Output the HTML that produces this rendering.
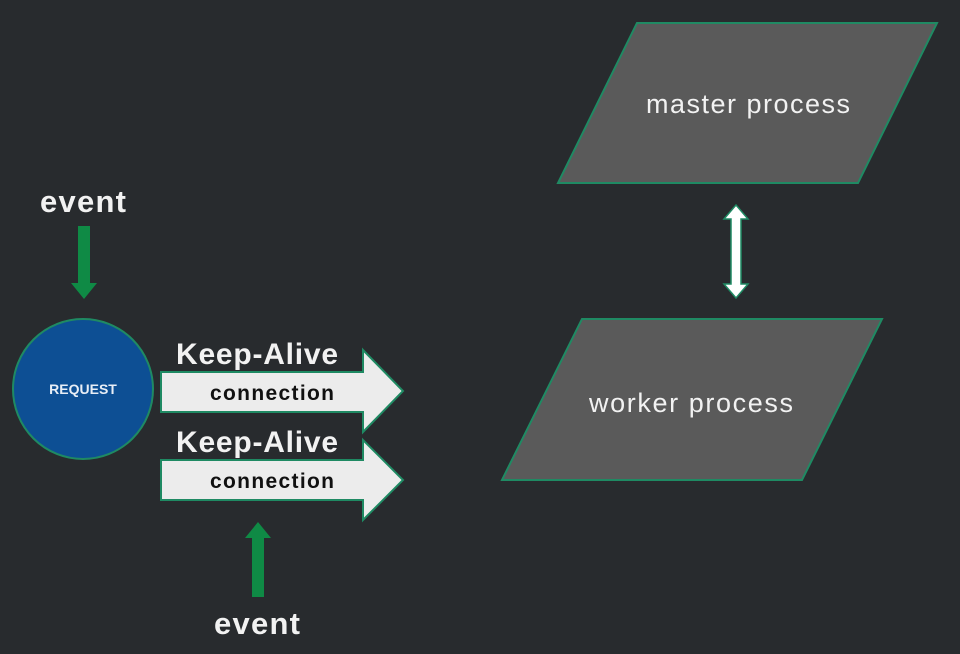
<!DOCTYPE html>
<html><head><meta charset="utf-8"><style>
html,body{margin:0;padding:0;background:#282b2e;}
svg{display:block}
text{font-family:"Liberation Sans",sans-serif;}
</style></head><body>
<svg width="960" height="654" viewBox="0 0 960 654" xmlns="http://www.w3.org/2000/svg">
<rect width="960" height="654" fill="#282b2e"/>
<polygon points="637,23 937,23 858,183 558,183" fill="#5a5a5a" stroke="#1f8a63" stroke-width="2"/>
<text x="748" y="113" font-size="27" fill="#f2f2f2" text-anchor="middle" textLength="204">master process</text>
<polygon points="582,319 882,319 802,480 502,480" fill="#5a5a5a" stroke="#1f8a63" stroke-width="2"/>
<text x="691" y="412" font-size="27" fill="#f2f2f2" text-anchor="middle" textLength="204">worker process</text>
<polygon points="736,205 748,219 741,219 741,284 748,284 736,298 724,284 731,284 731,219 724,219" fill="#ffffff" stroke="#1f8a63" stroke-width="1.5"/>
<text x="83" y="212" font-size="31" font-weight="bold" fill="#f2f2f2" text-anchor="middle" textLength="86">event</text>
<polygon points="78,226 90,226 90,283 97,283 84,299 71,283 78,283" fill="#0f8a45"/>
<circle cx="83" cy="389" r="70" fill="#0d4f94" stroke="#1f8a63" stroke-width="2"/>
<text x="83" y="394" font-size="14" font-weight="bold" fill="#e8eef6" text-anchor="middle">REQUEST</text>
<polygon points="161,372 363,372 363,350 403,391 363,432 363,412 161,412" fill="#ececec" stroke="#1f8a63" stroke-width="2"/>
<text x="257" y="364" font-size="30" font-weight="bold" fill="#f2f2f2" text-anchor="middle" textLength="162">Keep-Alive</text>
<text x="272" y="400" font-size="21" font-weight="bold" fill="#111" text-anchor="middle" textLength="124">connection</text>
<polygon points="161,460 363,460 363,440 403,480 363,520 363,500 161,500" fill="#ececec" stroke="#1f8a63" stroke-width="2"/>
<rect x="163" y="428" width="199" height="30" fill="#282b2e"/>
<text x="257" y="452" font-size="30" font-weight="bold" fill="#f2f2f2" text-anchor="middle" textLength="162">Keep-Alive</text>
<text x="272" y="488" font-size="21" font-weight="bold" fill="#111" text-anchor="middle" textLength="124">connection</text>
<polygon points="258,522 271,538 264,538 264,597 252,597 252,538 245,538" fill="#0f8a45"/>
<text x="257" y="634" font-size="31" font-weight="bold" fill="#f2f2f2" text-anchor="middle" textLength="86">event</text>
</svg>
</body></html>
